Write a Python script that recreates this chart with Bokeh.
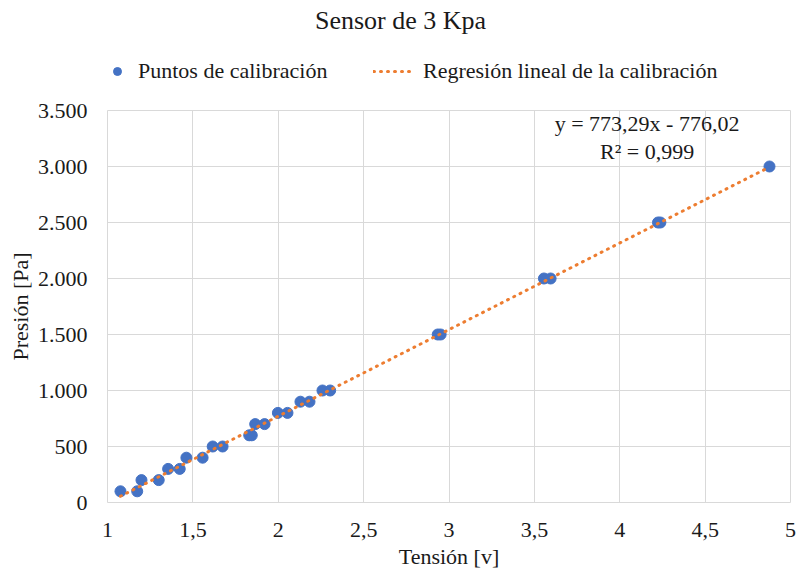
from bokeh.plotting import figure
from bokeh.layouts import column
from bokeh.models import FixedTicker, Legend, LegendItem, Label, Range1d, CustomJSTickFormatter
from bokeh.embed import file_html
from bokeh.resources import INLINE

# ---- data ----
tension = [1.076, 1.174, 1.199, 1.300, 1.355, 1.423, 1.462, 1.557, 1.616, 1.674,
           1.830, 1.845, 1.865, 1.920, 1.998, 2.054, 2.130, 2.183, 2.259, 2.304,
           2.934, 2.951, 3.556, 3.595, 4.224, 4.238, 4.877]
presion = [100, 100, 200, 200, 300, 300, 400, 400, 500, 500,
           600, 600, 700, 700, 800, 800, 900, 900, 1000, 1000,
           1500, 1500, 2000, 2000, 2500, 2500, 3000]
slope = 773.29
intercept = -776.02
r2_text = "R² = 0,999"

x_ticks = [1, 1.5, 2, 2.5, 3, 3.5, 4, 4.5, 5]
x_tick_labels = ["1", "1,5", "2", "2,5", "3", "3,5", "4", "4,5", "5"]
y_ticks = [0, 500, 1000, 1500, 2000, 2500, 3000, 3500]
y_tick_labels = ["0", "500", "1.000", "1.500", "2.000", "2.500", "3.000", "3.500"]

title_text = "Sensor de 3 Kpa"
series_names = ["Puntos de calibración", "Regresión lineal de la calibración"]

FONT = "Liberation Serif"
BLUE = "#4472C4"
ORANGE = "#ED7D31"
GRID = "#D9D9D9"
TXT = "#1a1a1a"
W = 796
TOP_H = 96
TOTAL_H = 574
BL, BR = 107, 6
FRAME_W = W - BL - BR

# ---- header figure: title + legend (frame aligned with main plot) ----
tf = figure(width=W, height=TOP_H, x_range=Range1d(0, FRAME_W), y_range=Range1d(0, TOP_H),
            output_backend="svg", toolbar_location=None,
            x_axis_location=None, y_axis_location=None,
            min_border_left=BL, min_border_right=BR, min_border_top=0, min_border_bottom=0)
tf.xgrid.visible = False
tf.ygrid.visible = False
tf.outline_line_color = None
tf.background_fill_color = "white"
tf.border_fill_color = "white"
d_sc = tf.scatter(x=[-1000], y=[-1000], size=11, color=BLUE)
d_ln = tf.line(x=[-1000, -999], y=[-1000, -1000], line_color=ORANGE, line_width=3,
               line_dash="1 6", line_cap="round")
tf.add_layout(Label(x=293, y=TOP_H - 20, text=title_text, text_align="center", text_baseline="middle",
                    text_font=FONT, text_font_size="26px", text_color=TXT))
common = dict(orientation="horizontal", label_text_font=FONT, label_text_font_size="22px",
              label_text_color=TXT, border_line_color=None, background_fill_alpha=0,
              padding=0, margin=0)
leg1 = Legend(items=[LegendItem(label=series_names[0], renderers=[d_sc])],
              location=(0, 12), glyph_width=20, label_standoff=11, **common)
leg2 = Legend(items=[LegendItem(label=series_names[1], renderers=[d_ln])],
              location=(266, 12), glyph_width=42, label_standoff=8, **common)
tf.add_layout(leg1, "center")
tf.add_layout(leg2, "center")

# ---- main figure ----
p = figure(width=W, height=TOTAL_H - TOP_H, x_range=Range1d(1, 5), y_range=Range1d(0, 3500),
           output_backend="svg", toolbar_location=None,
           min_border_left=BL, min_border_right=BR, min_border_top=14, min_border_bottom=72)

p.scatter(tension, presion, size=11, color=BLUE)
x_line = [min(tension), max(tension)]
y_line = [slope * x + intercept for x in x_line]
p.line(x_line, y_line, line_color=ORANGE, line_width=3, line_dash="1 6", line_cap="round")

eq_text = f"y = {slope:.2f}x - {abs(intercept):.2f}".replace(".", ",")
p.add_layout(Label(x=4.16, y=3380, text=eq_text, text_align="center", text_baseline="middle",
                   text_font=FONT, text_font_size="22px", text_color=TXT))
p.add_layout(Label(x=4.16, y=3135, text=r2_text, text_align="center", text_baseline="middle",
                   text_font=FONT, text_font_size="22px", text_color=TXT))

fmt_code = """
const i = tvals.findIndex(t => Math.abs(t - tick) < 1e-9);
return i >= 0 ? tlabels[i] : String(tick);
"""
p.xaxis.ticker = FixedTicker(ticks=x_ticks)
p.yaxis.ticker = FixedTicker(ticks=y_ticks)
p.xaxis.formatter = CustomJSTickFormatter(args=dict(tvals=x_ticks, tlabels=x_tick_labels), code=fmt_code)
p.yaxis.formatter = CustomJSTickFormatter(args=dict(tvals=y_ticks, tlabels=y_tick_labels), code=fmt_code)
p.xgrid.ticker = FixedTicker(ticks=x_ticks)
p.ygrid.ticker = FixedTicker(ticks=y_ticks)

for ax in (p.xaxis[0], p.yaxis[0]):
    ax.axis_line_color = None
    ax.major_tick_line_color = None
    ax.minor_tick_line_color = None
    ax.major_tick_out = 0
    ax.major_tick_in = 0
    ax.minor_tick_out = 0
    ax.minor_tick_in = 0
    ax.major_label_text_font = FONT
    ax.major_label_text_font_size = "22px"
    ax.major_label_text_color = TXT
    ax.axis_label_text_font = FONT
    ax.axis_label_text_font_size = "22px"
    ax.axis_label_text_font_style = "normal"
    ax.axis_label_text_color = TXT

p.xaxis.axis_label = "Tensión [v]"
p.yaxis.axis_label = "Presión [Pa]"
p.xaxis.major_label_standoff = 20
p.xaxis.axis_label_standoff = 4
p.yaxis.major_label_standoff = 20
p.yaxis.axis_label_standoff = 2

p.xgrid.grid_line_color = GRID
p.ygrid.grid_line_color = GRID
p.outline_line_color = GRID
p.background_fill_color = "white"
p.border_fill_color = "white"

layout = column(tf, p, spacing=0)
open("out.html", "w").write(file_html(layout, INLINE))
